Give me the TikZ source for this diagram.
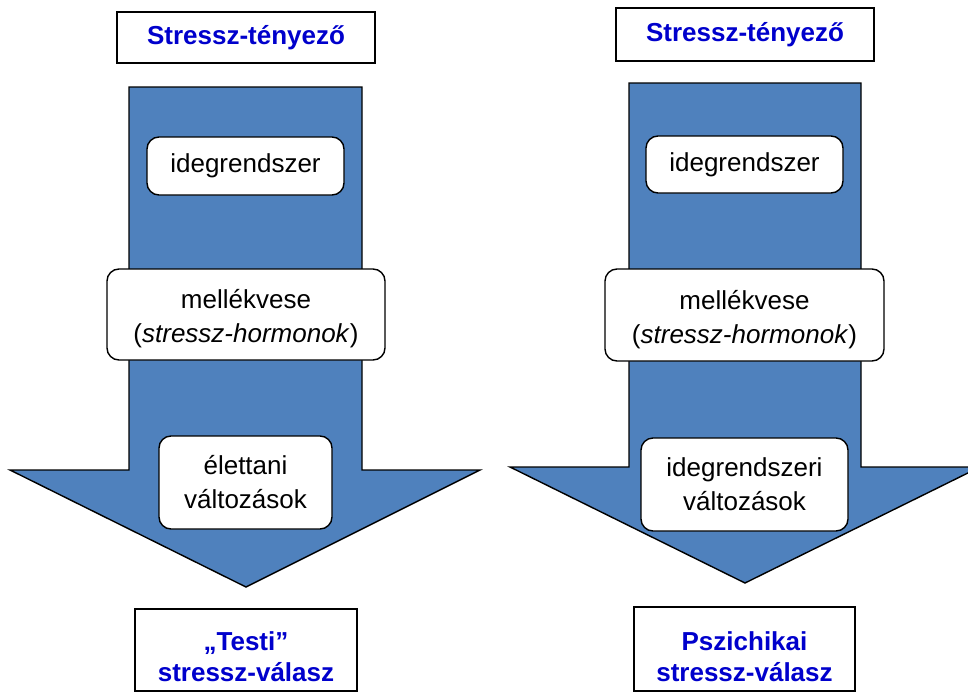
\documentclass[tikz,border=0pt]{standalone}
\usepackage{fontspec}
\setmainfont{Liberation Sans}
\definecolor{arrowblue}{HTML}{4F81BD}
\definecolor{txtblue}{HTML}{0000CC}
\newcommand{\lift}[1]{\rule{0pt}{#1}}
\begin{document}
\begin{tikzpicture}[x=1pt,y=-1pt,
  bigarrow/.style={fill=arrowblue, draw=black, line width=1.4pt, line join=miter},
  titlebox/.style={draw=black, fill=white, line width=1.4pt, font=\fontsize{26}{31}\selectfont\bfseries, text=txtblue, align=center, inner sep=0pt},
  stagebox/.style={draw=black, fill=white, line width=1.4pt, rounded corners=12pt, font=\fontsize{26}{34}\selectfont, align=center, inner sep=0pt},
]
\useasboundingbox (0,0) rectangle (968,693);
\clip (0,0) rectangle (968,693);

% left arrow
\draw[bigarrow] (129,87) -- (362,87) -- (362,470) -- (480,470) -- (246,587) -- (10,470) -- (129,470) -- cycle;
% right arrow
\draw[bigarrow] (629,83) -- (861,83) -- (861,467) -- (980,467) -- (745,583) -- (510,467) -- (629,467) -- cycle;

% left column
\node[titlebox, minimum width=258pt, minimum height=51pt] (lt) at (246,37.5) {Stressz-tényező};
\node[stagebox, minimum width=197pt, minimum height=58pt] (l1) at (245.5,166) {idegrendszer};
\node[stagebox, minimum width=278pt, minimum height=91pt] (l2) at (246,314.5) {\lift{28pt}mellékvese\\(\textit{stressz-hormonok})};
\node[stagebox, minimum width=173pt, minimum height=93pt] (l3) at (245.5,482.5) {élettani\\változások};
\node[titlebox, minimum width=222pt, minimum height=82pt] (lb) at (246,650) {\lift{33pt}„Testi”\\stressz-válasz};

% right column
\node[titlebox, minimum width=258pt, minimum height=53pt] (rt) at (745,34.5) {Stressz-tényező};
\node[stagebox, minimum width=197pt, minimum height=57pt] (r1) at (744.5,164.5) {idegrendszer};
\node[stagebox, minimum width=279pt, minimum height=92pt] (r2) at (744.5,315) {\lift{28pt}mellékvese\\(\textit{stressz-hormonok})};
\node[stagebox, minimum width=207pt, minimum height=93pt] (r3) at (744.5,484.5) {idegrendszeri\\változások};
\node[titlebox, minimum width=221pt, minimum height=84pt] (rb) at (744.5,649) {\lift{34pt}Pszichikai\\stressz-válasz};
\end{tikzpicture}
\end{document}
